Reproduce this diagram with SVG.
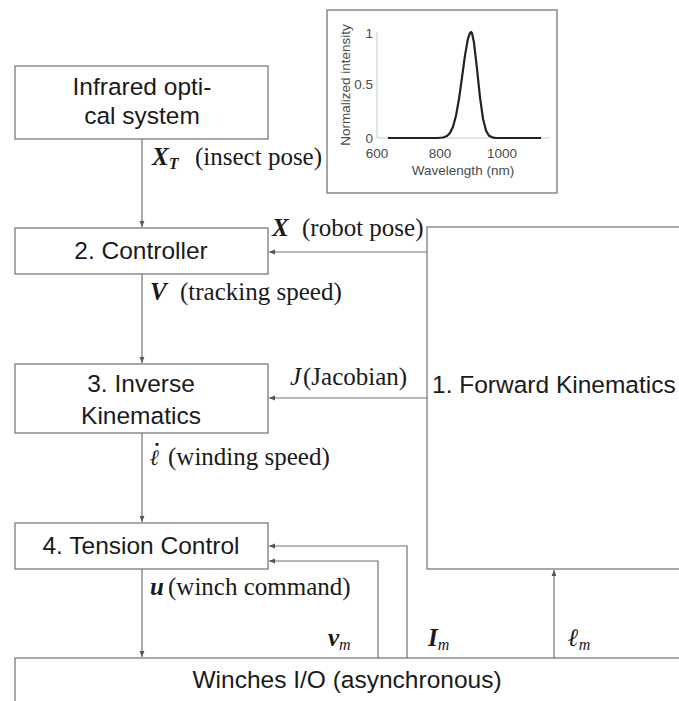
<svg xmlns="http://www.w3.org/2000/svg" width="679" height="701" viewBox="0 0 679 701">
<style>
.box{fill:#fff;stroke:#7a7a7a;stroke-width:1.3}
.lbl{font-family:"Liberation Sans","DejaVu Sans",sans-serif;font-size:24.5px;fill:#1a1a1a}
.m{font-family:"Liberation Serif","DejaVu Serif",serif;font-size:25px;fill:#1a1a1a}
.bi{font-weight:bold;font-style:italic}
.it{font-style:italic}
.sub{font-size:16px}
.ell{font-size:22px}
.con{fill:none;stroke:#707070;stroke-width:1.2}
.ax{font-family:"Liberation Sans","DejaVu Sans",sans-serif;font-size:13.5px;fill:#4a4a4a}
</style>
<defs>
<marker id="ah" viewBox="0 0 10 10" refX="10" refY="5" markerWidth="6" markerHeight="6" orient="auto" markerUnits="userSpaceOnUse">
<path d="M0,1 L10,5 L0,9 z" fill="#555"/>
</marker>
</defs>
<rect width="679" height="701" fill="#fff"/>

<g id="inset">
<rect x="327" y="10" width="230" height="183" fill="#fff" stroke="#888" stroke-width="1.5"/>
<line x1="377" y1="32" x2="377" y2="138" stroke="#c8c8c8" stroke-width="1"/>
<line x1="377" y1="138" x2="550" y2="138" stroke="#c8c8c8" stroke-width="1"/>
<polyline fill="none" stroke="#222" stroke-width="2.2" stroke-linejoin="round" points="388,138 437,138 443,137.5 447,136 450,133 453,126.7 456,115.7 459,98.9 462,77.5 465,55.4 468,38.4 470,33 471,32 472,33 474,42.7 477,68.8 480,97.4 483,118.7 486,130.6 489,135.7 493,137.6 497,138 541,138"/>
<text class="ax" x="373" y="38" text-anchor="end">1</text>
<text class="ax" x="373" y="89" text-anchor="end">0.5</text>
<text class="ax" x="373" y="143" text-anchor="end">0</text>
<text class="ax" x="377" y="158" text-anchor="middle">600</text>
<text class="ax" x="440" y="158" text-anchor="middle">800</text>
<text class="ax" x="502" y="158" text-anchor="middle">1000</text>
<text class="ax" x="463" y="175" text-anchor="middle">Wavelength (nm)</text>
<text class="ax" transform="translate(350,85) rotate(-90)" text-anchor="middle">Normalized intensity</text>
</g>

<g id="infrared">
<rect class="box" x="15" y="66" width="253" height="73"/>
<text class="lbl" x="142" y="95" text-anchor="middle">Infrared opti-</text>
<text class="lbl" x="142" y="124" text-anchor="middle">cal system</text>
</g>

<g id="controller">
<rect class="box" x="15" y="228" width="253" height="46"/>
<text class="lbl" x="141" y="259" text-anchor="middle">2. Controller</text>
</g>

<g id="inverse">
<rect class="box" x="15" y="364" width="253" height="69"/>
<text class="lbl" x="141" y="392" text-anchor="middle">3. Inverse</text>
<text class="lbl" x="141" y="424" text-anchor="middle">Kinematics</text>
</g>

<g id="tension">
<rect class="box" x="15" y="523" width="253" height="46"/>
<text class="lbl" x="141" y="554" text-anchor="middle">4. Tension Control</text>
</g>

<g id="forward">
<rect class="box" x="427" y="227" width="300" height="342"/>
<text class="lbl" x="432" y="393">1. Forward Kinematics</text>
</g>

<g id="winches">
<rect class="box" x="15" y="658" width="700" height="60"/>
<text class="lbl" x="347" y="688" text-anchor="middle">Winches I/O (asynchronous)</text>
</g>

<g id="connectors">
<line class="con" x1="142" y1="139" x2="142" y2="227" marker-end="url(#ah)"/>
<line class="con" x1="142" y1="274" x2="142" y2="363" marker-end="url(#ah)"/>
<line class="con" x1="142" y1="433" x2="142" y2="522" marker-end="url(#ah)"/>
<line class="con" x1="142" y1="569" x2="142" y2="657" marker-end="url(#ah)"/>
<line class="con" x1="427" y1="252" x2="269" y2="252" marker-end="url(#ah)"/>
<line class="con" x1="427" y1="398" x2="269" y2="398" marker-end="url(#ah)"/>
<polyline class="con" points="407,658 407,546 269,546" marker-end="url(#ah)"/>
<polyline class="con" points="378,658 378,561 269,561" marker-end="url(#ah)"/>
<line class="con" x1="554" y1="658" x2="554" y2="570" marker-end="url(#ah)"/>
</g>

<g id="labels">
<text class="m" x="152" y="165"><tspan class="bi">X</tspan><tspan class="bi sub" dy="4">T</tspan><tspan x="195" dy="-4">(insect pose)</tspan></text>
<text class="m" x="272" y="236"><tspan class="bi">X</tspan><tspan x="302">(robot pose)</tspan></text>
<text class="m" x="150" y="300"><tspan class="bi">V</tspan><tspan x="180">(tracking speed)</tspan></text>
<text class="m" x="290" y="385"><tspan class="it">J</tspan><tspan x="303">(Jacobian)</tspan></text>
<text class="m" x="150" y="465"><tspan class="bi ell">ℓ</tspan><tspan class="bi ell" x="152" dy="-7">˙</tspan><tspan x="168" dy="7">(winding speed)</tspan></text>
<text class="m" x="150" y="595"><tspan class="bi">u</tspan><tspan x="168">(winch command)</tspan></text>
<text class="m" x="328" y="646"><tspan class="bi">v</tspan><tspan class="it sub" dy="4">m</tspan></text>
<text class="m" x="428" y="646"><tspan class="bi">I</tspan><tspan class="it sub" dy="4">m</tspan></text>
<text class="m" x="568" y="646"><tspan class="bi">ℓ</tspan><tspan class="it sub" dy="4">m</tspan></text>
</g>
</svg>
